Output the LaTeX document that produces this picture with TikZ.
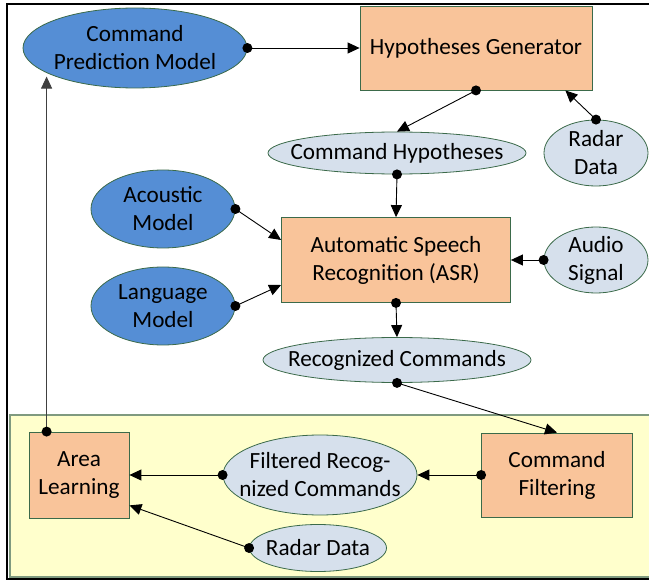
\documentclass[tikz,border=0pt]{standalone}
\usepackage{fontspec}
\setmainfont{Carlito}
\usetikzlibrary{shapes.geometric,arrows.meta,calc}
\definecolor{bluefill}{HTML}{558ED5}
\definecolor{lightfill}{HTML}{D6E0EC}
\definecolor{peach}{HTML}{F9C49A}
\definecolor{edgegreen}{HTML}{3B6A4A}
\definecolor{yellowfill}{HTML}{FFFFCC}
\definecolor{yellowedge}{HTML}{7F9A7F}
\begin{document}
\begin{tikzpicture}[x=1pt,y=-1pt,
 every node/.style={font=\fontsize{23.2}{28}\selectfont, align=center, text=black},
 darkell/.style={ellipse, draw=edgegreen, fill=bluefill, inner sep=-30pt, line width=0.8pt},
 lightell/.style={ellipse, draw=edgegreen, fill=lightfill, inner sep=-30pt, line width=0.8pt},
 procbox/.style={rectangle, draw=edgegreen, fill=peach, inner sep=0pt, line width=0.8pt},
 conn/.style={line width=0.9pt, -{Triangle[length=12pt,width=11pt]}},
 dotc/.style={fill=black}
]
\useasboundingbox (0,0) rectangle (649,583);
% yellow region and outer frame
\draw[fill=yellowfill, draw=yellowedge, line width=1.2pt] (10,415) rectangle (655,577);
\draw[line width=2.2pt] (7,4) rectangle (655,579);

% nodes
\node[darkell, minimum width=224pt, minimum height=80pt] (CPM) at (135,48) {Command\\Prediction Model};
\node[procbox, minimum width=232pt, minimum height=84pt] (HG) at (476,48) {Hypotheses Generator};
\node[lightell, minimum width=104pt, minimum height=66pt] (RD1) at (596,153) {Radar\\Data};
\node[lightell, minimum width=258pt, minimum height=42pt] (CH) at (397,153) {Command Hypotheses};
\node[darkell, minimum width=144pt, minimum height=78pt] (AM) at (163,209) {Acoustic\\Model};
\node[darkell, minimum width=144pt, minimum height=78pt] (LM) at (163,306) {Language\\Model};
\node[procbox, minimum width=229pt, minimum height=85pt] (ASR) at (396,260) {Automatic Speech\\Recognition (ASR)};
\node[lightell, minimum width=104pt, minimum height=66pt] (AS) at (596,260) {Audio\\Signal};
\node[lightell, minimum width=268pt, minimum height=45pt] (RC) at (397,360) {Recognized Commands};
\node[procbox, minimum width=100pt, minimum height=86pt] (AL) at (79,475) {Area\\Learning};
\node[lightell, minimum width=194pt, minimum height=80pt] (FRC) at (320,475) {Filtered Recog-\\nized Commands};
\node[lightell, minimum width=137pt, minimum height=47pt] (RD2) at (318,548) {Radar Data};
\node[procbox, minimum width=151pt, minimum height=84pt] (CF) at (557,475) {Command\\Filtering};

% helper coordinates
\coordinate (HGin) at ($(HG.south east)+(-27,0)$);
\coordinate (ASRa) at ($(ASR.west)+(0,-20)$);
\coordinate (ASRl) at ($(ASR.west)+(0,25)$);
\coordinate (ALin) at ($(AL.south east)+(0,-13)$);
\coordinate (ALtop) at ($(AL.north west)+(18,0)$);
\coordinate (CPMin) at (ALtop |- CPM.south west);

% connectors
\draw[conn] (CPM.east) -- (HG.west);
\draw[conn] (HG.south) -- (CH.north);
\draw[conn] (RD1.north) -- (HGin);
\draw[conn] (CH.south) -- (ASR.north);
\draw[conn] (AM.east) -- (ASRa);
\draw[conn] (LM.east) -- (ASRl);
\draw[conn] (AS.west) -- (ASR.east);
\draw[conn] (ASR.south) -- (RC.north);
\draw[conn] (RC.south) -- (CF.north);
\draw[conn] (CF.west) -- (FRC.east);
\draw[conn] (FRC.west) -- (AL.east);
\draw[conn] (RD2.west) -- (ALin);
\draw[conn, draw=black!75] (ALtop) -- (CPMin);

% dots
\foreach \p in {CPM.east, HG.south, RD1.north, CH.south, AM.east, LM.east, AS.west, ASR.south, RC.south, CF.west, FRC.west, RD2.west, ALtop}
  \fill[dotc] (\p) circle (5pt);
\end{tikzpicture}
\end{document}
